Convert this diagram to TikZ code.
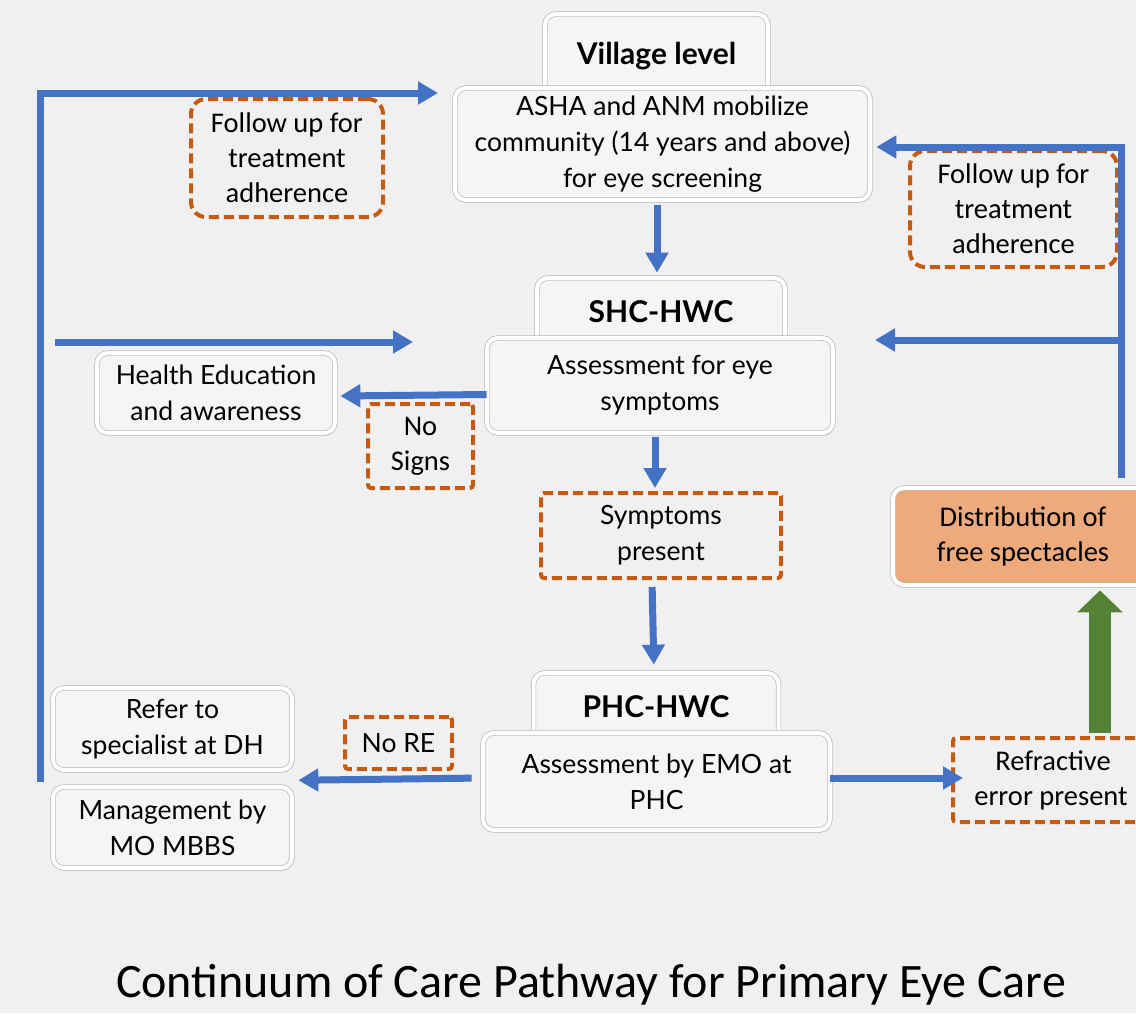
\documentclass[tikz,border=0pt]{standalone}
\usepackage{fontspec}
\setmainfont{Carlito}
\newfontfamily\boxfont{Lato}
\usetikzlibrary{arrows.meta, shadows, calc}

\definecolor{bgGray}{HTML}{F0F0F0}
\definecolor{flowBlue}{HTML}{4472C4}
\definecolor{noteOrange}{HTML}{C55A11}
\definecolor{arrowGreen}{HTML}{548235}
\definecolor{specFill}{HTML}{EFAA7C}
\definecolor{boxFace}{HTML}{F5F5F5}

\tikzset{
	level/.style = {draw = black!28, line width = 0.7pt, double = white, double distance = 4pt,
		fill = boxFace, rounded corners = 11pt,
		drop shadow = {shadow xshift = 1.5pt, shadow yshift = -2.5pt, opacity = 0.3},
		align = center, inner sep = 0pt, font = \boxfont\fontsize{26.5}{36}\selectfont},
	head/.style = {level, font = \boxfont\bfseries\fontsize{30}{36}\selectfont},
	note/.style = {draw = noteOrange, line width = 4pt, dash pattern = on 10pt off 5pt,
		rounded corners = 3pt, align = center, inner sep = 0pt, font = \fontsize{28.5}{35}\selectfont},
	flow/.style = {flowBlue, line width = 7pt, -{Triangle[length = 20pt, width = 22pt]}},
	spec/.style = {arrowGreen, line width = 22pt, -{Triangle[length = 22pt, width = 44pt]}},
}

\begin{document}
\begin{tikzpicture}[x = 1pt, y = -1pt]
			\useasboundingbox (0,0) rectangle (1136,1013);
			\fill [bgGray] (0,0) rectangle (1136,1013);
			\clip (0,0) rectangle (1136,1013);

			% levels of care
			\begin{scope}
				\node [head, minimum width = 223pt, minimum height = 84pt] (village) at (656.5,56) {Village level};
				\node [level, minimum width = 415pt, minimum height = 112pt] (asha) at (662.5,144)
					{ASHA and ANM mobilize\\community (14 years and above)\\for eye screening};

				\node [head, minimum width = 248pt, minimum height = 68pt] (shc) at (661,312) {SHC-HWC};
				\node [level, minimum width = 346pt, minimum height = 95pt] (assessEye) at (660,385.5)
					{Assessment for eye\\symptoms};
				\node [level, minimum width = 238pt, minimum height = 80pt] (health) at (216,393)
					{Health Education\\and awareness};

				\node [head, minimum width = 245pt, minimum height = 68pt] (phc) at (656,707) {PHC-HWC};
				\node [level, minimum width = 347pt, minimum height = 97pt] (assessEMO) at (656.5,781.5)
					{Assessment by EMO at\\PHC};
				\node [level, minimum width = 239pt, minimum height = 82pt] (refer) at (172.5,729)
					{Refer to\\specialist at DH};
				\node [level, minimum width = 239pt, minimum height = 81pt] (manage) at (172.5,827.5)
					{Management by\\MO MBBS};

				\node [level, fill = specFill, minimum width = 260pt, minimum height = 97pt,
					font = \fontsize{28.5}{35}\selectfont] (distrib) at (1023,536.5)
					{Distribution of\\free spectacles};
			\end{scope}

			% dashed conditions
			\begin{scope}
				\node [note, rounded corners = 15pt, minimum width = 192pt, minimum height = 118pt] (followL) at (287,158)
					{Follow up for\\treatment\\adherence};
				\node [note, rounded corners = 15pt, minimum width = 207pt, minimum height = 116pt] (followR) at (1013.5,209)
					{Follow up for\\treatment\\adherence};
				\node [note, minimum width = 105pt, minimum height = 84pt] (noSigns) at (420.5,446) {No\\Signs};
				\node [note, font = \boxfont\fontsize{26.5}{36}\selectfont, minimum width = 240pt, minimum height = 85pt]
					(symptoms) at (661,535.5) {Symptoms\\present};
				\node [note, font = \boxfont\fontsize{26.5}{36}\selectfont, minimum width = 107pt, minimum height = 52pt]
					(noRE) at (398.5,743) {No RE};
				\node [note, minimum width = 200pt, minimum height = 84pt] (refractive) at (1053,780)
					{Refractive\\\hspace*{-4pt}error present};
			\end{scope}

			\coordinate (upL) at (40,782);
			\coordinate (toVillage) at (438,93);
			\coordinate (fromLeft) at (55,342);
			\coordinate (toSHC) at (413,342);
			\coordinate (upR) at (1121,478);
			\coordinate (toAssess) at (875,340);
			\coordinate (greenBase) at (1100,733);

			% connectors
			\begin{scope}
				\draw [flow, shorten <= 5pt, shorten >= 5pt] ([xshift = -5.5pt]asha.south) -- ([xshift = -4pt]shc.north);
				\draw [flow, shorten <= 4pt, shorten >= 3pt] ([xshift = -5pt]assessEye.south) -- ([xshift = -6pt]symptoms.north);
				\draw [flow, shorten <= 7pt, shorten >= 8pt] ([xshift = -9pt]symptoms.south) -- ([xshift = -2pt]phc.north);
				\draw [flow] ([yshift = -9pt]assessEye.west) -- ([xshift = 5pt, yshift = -3pt]health.east);
				\draw [flow, shorten <= 11pt] ([yshift = 3.5pt]assessEMO.west) -- ($(refer.east)!0.5!(manage.east) + (6,2)$);
				\draw [flow] ([yshift = 3.5pt]assessEMO.east) -- ([xshift = 12pt, yshift = 2pt]refractive.west);

				\draw [flow] (upL) |- (toVillage);
				\draw [flow] (fromLeft) -- (toSHC);
				\draw [flow] (upR) |- ([xshift = 6pt, yshift = -3pt]asha.east);
				\draw [flow] (toAssess -| upR) -- (toAssess);

				\draw [spec, shorten >= 5pt] (greenBase) -- (greenBase |- distrib.south);
			\end{scope}

			\node [font = \fontsize{48}{56}\selectfont, anchor = base] (title) at (591,997)
				{Continuum of Care Pathway for Primary Eye Care};
		\end{tikzpicture}
\end{document}
